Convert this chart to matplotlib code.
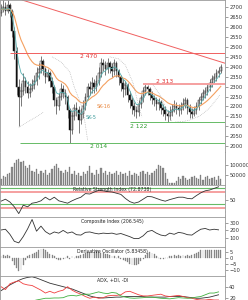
import numpy as np
import pandas as pd
import matplotlib
matplotlib.use('Agg')
import matplotlib.pyplot as plt
from matplotlib.ticker import MultipleLocator, FixedLocator

# ---- price bars (one per session) ----
close = [2690, 2700, 2680, 2710, 2680, 2580, 2480, 2300, 2250, 2280,
         2330, 2300, 2270, 2290, 2310, 2330, 2370, 2390, 2430, 2390,
         2350, 2370, 2330, 2300, 2230, 2200, 2250, 2290, 2270, 2250,
         2180, 2080, 2150, 2190, 2180, 2130, 2160, 2200, 2250, 2300,
         2290, 2320, 2300, 2330, 2370, 2420, 2410, 2390, 2420, 2400,
         2380, 2420, 2380, 2350, 2320, 2290, 2310, 2260, 2230, 2200,
         2180, 2170, 2210, 2240, 2280, 2300, 2290, 2260, 2240, 2230,
         2210, 2220, 2190, 2180, 2160, 2150, 2170, 2180, 2200, 2190,
         2180, 2200, 2210, 2230, 2190, 2170, 2160, 2180, 2200, 2230,
         2250, 2270, 2280, 2300, 2320, 2340, 2350, 2370, 2380, 2400]
high = [2715, 2740, 2725, 2735, 2720, 2690, 2600, 2500, 2340, 2320,
        2370, 2350, 2330, 2320, 2340, 2360, 2400, 2420, 2455, 2440,
        2400, 2390, 2380, 2350, 2310, 2250, 2270, 2320, 2310, 2290,
        2260, 2190, 2170, 2210, 2220, 2200, 2190, 2230, 2270, 2320,
        2330, 2350, 2340, 2360, 2400, 2445, 2440, 2430, 2445, 2430,
        2420, 2440, 2430, 2390, 2360, 2340, 2330, 2320, 2280, 2250,
        2220, 2200, 2230, 2260, 2300, 2313, 2310, 2300, 2280, 2260,
        2250, 2240, 2230, 2210, 2200, 2180, 2200, 2210, 2230, 2220,
        2210, 2220, 2240, 2250, 2240, 2210, 2190, 2200, 2220, 2250,
        2270, 2290, 2300, 2320, 2340, 2360, 2370, 2390, 2400, 2415]
low = [2655, 2675, 2660, 2670, 2650, 2550, 2440, 2260, 2100, 2200,
       2260, 2270, 2240, 2250, 2280, 2290, 2310, 2340, 2370, 2360,
       2320, 2330, 2300, 2270, 2200, 2160, 2180, 2230, 2240, 2210,
       2140, 2014, 2060, 2130, 2150, 2065, 2110, 2140, 2180, 2230,
       2260, 2270, 2270, 2280, 2310, 2350, 2380, 2360, 2370, 2370,
       2350, 2360, 2350, 2310, 2280, 2250, 2260, 2220, 2190, 2160,
       2150, 2140, 2150, 2190, 2220, 2260, 2260, 2230, 2210, 2200,
       2180, 2180, 2160, 2150, 2130, 2122, 2130, 2150, 2170, 2160,
       2150, 2160, 2180, 2190, 2160, 2140, 2140, 2150, 2160, 2180,
       2210, 2230, 2240, 2260, 2280, 2300, 2320, 2330, 2350, 2370]
first_open = 2670
volume_k = [30, 45, 40, 55, 60, 90, 110, 125, 130, 115,
            120, 95, 85, 100, 70, 65, 80, 55, 70, 60,
            75, 50, 60, 80, 95, 105, 85, 70, 60, 75,
            65, 90, 55, 70, 50, 60, 45, 65, 55, 70,
            95, 60, 50, 75, 55, 85, 60, 70, 50, 65,
            55, 60, 70, 50, 65, 55, 60, 45, 70, 50,
            60, 55, 45, 65, 70, 55, 65, 50, 60, 70,
            80, 100, 95, 85, 60, 30, 10, 8, 12, 20,
            40, 30, 45, 35, 25, 30, 40, 45, 35, 30,
            50, 25, 40, 45, 30, 35, 40, 25, 45, 30]
deriv_osc = [1, 2, 1, 2, 1, -3, -6, -9, -11, -10,
             -6, -2, 1, 2, 3, 4, 5, 6, 7, 7.5,
             6, 5, 3, 2, 1, -1, -2, -2, -1, 0,
             1, -1, 1, 0, 1, 1, 2, 3, 4, 5,
             5, 6, 5, 6, 5, 4, 4, 3, 3, 2,
             1, 1, 0, 1, -1, -2, -3, -4, -5, -6,
             -6, -6, -5, -3, -1, 2, 4, 5, 4, 3,
             1, 0, -1, -1, 0, 0, 1, 1, 2, 1,
             2, 1, 2, 1, 2, 1, 2, 3, 4, 5,
             6, 6, 6, 6, 6, 6, 6, 6, 6, 6]

# ---- indicators sampled every second bar ----
ind_bar = list(range(0, 100, 2))
rsi = [47, 52, 45, 33, 16, 37, 33, 42, 44, 48, 57, 50, 57, 48, 45, 42, 48, 53, 57, 66,
       65, 70, 74, 73, 71, 70, 67, 64, 54, 46, 42, 45, 52, 59, 58, 54, 50, 47, 51, 54,
       57, 57, 54, 53, 61, 68, 73, 75, 79, 83]
composite = [205, 215, 150, 60, 40, 120, 220, 340, 190, 255, 185, 150, 180, 165, 200, 165, 180,
             145, 140, 175, 180, 165, 155, 165, 160, 165, 150, 160, 140, 120, 95, 95, 130, 185,
             200, 165, 140, 130, 165, 150, 175, 165, 145, 140, 180, 215, 225, 205, 215, 207]
adx = [33, 38, 43, 47, 51, 54, 56, 57, 55, 52, 49, 46, 44, 42, 40, 38, 36, 33, 30, 27,
       24, 22, 21, 20.5, 21, 21.5, 22, 22, 23, 23, 23, 23, 23, 22, 22, 22, 22, 22, 23, 23,
       23, 23, 22, 21, 20, 20, 21, 22, 24, 26]
minus_di = [40, 35, 45, 48, 50, 45, 43, 42, 38, 34, 29, 32, 29, 32, 34, 40, 34, 30, 27, 23,
            20, 22, 20, 21, 24, 25, 25, 26, 31, 32, 29, 26, 24, 24, 25, 26, 27, 24, 23, 24,
            25, 23, 21, 20, 18, 17, 17, 18, 17, 17]
plus_di = [14, 13, 12, 12, 12, 13, 14, 15, 17, 18.5, 20, 20, 20.5, 20.5, 21, 24, 25, 24, 26, 27,
           27, 29, 31, 29, 28, 30, 29, 24, 22, 20.5, 20, 20.5, 21, 22, 22, 21, 20, 19.5, 19, 20,
           21, 20.5, 20, 20.5, 22, 23, 26, 29, 29, 31]

# ---- drawn levels / annotations ----
resist_hi, resist_lo = 2470, 2313
support_hi, support_lo = 2122, 2014
trend_bars, trend_prices = [9.5, 100.9], [2737, 2418]
arcs = [
    ([8, 11, 14, 17, 19], [2095, 2115, 2135, 2155, 2170]),
    ([23, 27, 31, 33, 37, 39], [2450, 2425, 2374, 2298, 2182, 2030]),
    ([49, 53, 56, 59.5, 61.7, 63.5], [2450, 2440, 2409, 2318, 2217, 2146]),
    ([68.5, 71.6, 74.8, 77], [2308, 2258, 2182, 2120]),
    ([78.4, 82, 85, 89.6, 94, 98.6], [2121, 2124, 2131, 2152, 2192, 2258]),
]

o = pd.Series(close).shift(1).fillna(first_open).values
c = np.array(close)
x = np.arange(len(close))
ema16 = pd.Series(close).ewm(span=16, adjust=False).mean()
ema5 = pd.Series(close).ewm(span=5, adjust=False).mean()

W = 248.0
H = 300.0
pw = 225 / W
fig = plt.figure(figsize=(2.48, 3.0), dpi=100)


def panel(top, bottom):
    ax = fig.add_axes([0, 1 - bottom / H, pw, (bottom - top) / H])
    ax.set_xlim(-0.45, 100.9)
    ax.yaxis.tick_right()
    ax.set_xticks([])
    for s in ax.spines.values():
        s.set_color('#9a9a9a')
        s.set_linewidth(0.6)
    ax.tick_params(axis='y', which='major', labelsize=3.7, length=2, width=0.4,
                   pad=1, colors='#555555', labelcolor='#333333')
    ax.tick_params(axis='y', which='minor', length=1, width=0.3, colors='#777777')
    return ax


tfs = 3.3
gray = '#333333'

# price
ax = panel(0, 152)
ax.spines['bottom'].set_visible(False)
ax.set_ylim(1970, 2737)
ax.yaxis.set_major_locator(MultipleLocator(50))
ax.yaxis.set_minor_locator(MultipleLocator(10))
ax.vlines(x, low, high, color='#444444', lw=0.5)
up = c >= o
ax.bar(x, np.maximum(np.abs(c - o), 3), bottom=np.minimum(o, c), width=0.75,
       color=np.where(up, 'white', 'black'), edgecolor='#222222', linewidth=0.35)
ax.plot(x, ema16, color='#f4a060', lw=0.8)
ax.plot(x, ema5, color='#59b0b0', lw=0.6)
for bx, by in arcs:
    ax.plot(bx, by, color='#aaaaaa', lw=0.5, ls=(0, (1, 1.5)))
ax.plot(trend_bars, trend_prices, color='#f06060', lw=0.7)
ax.hlines(resist_hi, 4, 100.9, color='#f06060', lw=0.7)
ax.hlines(resist_lo, 64, 100.9, color='#f5a0a0', lw=1.4)
ax.hlines(support_hi, 58, 100.9, color='#66bb66', lw=0.7)
ax.hlines(support_lo, 8.5, 100.9, color='#66bb66', lw=0.7)
ax.text(35.6, 2452, '2 470', color='#e03030', fontsize=4.3, va='center')
ax.text(70, 2326, '2 313', color='#e03030', fontsize=4.3, va='center')
ax.text(58, 2100, '2 122', color='#2e9a2e', fontsize=4.3, va='center')
ax.text(40, 2000, '2 014', color='#2e9a2e', fontsize=4.3, va='center')
ax.text(43, 2202, 'SK-16', color='#e8843a', fontsize=3.6, va='center')
ax.text(38, 2146, 'SK-5', color='#3a9a9a', fontsize=3.6, va='center')

# volume
ax = panel(152, 185)
ax.spines['top'].set_visible(False)
ax.set_ylim(0, 165000)
ax.yaxis.set_major_locator(FixedLocator([50000, 100000]))
ax.yaxis.set_minor_locator(MultipleLocator(10000))
ax.bar(x, np.array(volume_k) * 1000, width=0.55, color='#8c8c8c', edgecolor='#6a6a6a', linewidth=0.2)

# RSI
ax = panel(185, 217)
ax.set_ylim(7.5, 87.5)
ax.yaxis.set_major_locator(FixedLocator([50]))
ax.yaxis.set_minor_locator(MultipleLocator(10))
ax.axhline(80, color='#66bb66', lw=0.8)
ax.axhline(40, color='#66bb66', lw=0.8)
ax.axhline(70, color='#f5a0a0', lw=1.4)
ax.axhline(30, color='#f5a0a0', lw=1.4)
ax.plot(ind_bar, rsi, color=gray, lw=0.6)
ax.text(0.5, 0.93, 'Relative Strength Index (72.8738)', transform=ax.transAxes,
        ha='center', va='top', fontsize=tfs, color='#222222')

# Composite index
ax = panel(217, 247)
ax.set_ylim(-12.8, 371.8)
ax.yaxis.set_major_locator(MultipleLocator(100))
ax.yaxis.set_minor_locator(MultipleLocator(50))
ax.set_yticks([100, 200, 300])
ax.plot(ind_bar, composite, color=gray, lw=0.6)
ax.text(0.5, 0.93, 'Composite Index (206.545)', transform=ax.transAxes,
        ha='center', va='top', fontsize=tfs, color='#222222')

# Derivative oscillator
ax = panel(247, 276)
ax.set_ylim(-15.4, 8.75)
ax.set_yticks([5, 0, -5, -10])
ax.yaxis.set_minor_locator(MultipleLocator(2.5))
ax.bar(x, deriv_osc, width=0.4, color='#8c8c8c', edgecolor='#777777', linewidth=0.2)
ax.text(0.5, 0.93, 'Derivative Oscillator (5.83458)', transform=ax.transAxes,
        ha='center', va='top', fontsize=tfs, color='#222222')

# ADX
ax = panel(276, 300)
ax.set_ylim(17, 58.4)
ax.set_yticks([20, 40])
ax.yaxis.set_minor_locator(MultipleLocator(10))
ax.plot(ind_bar, adx, color=gray, lw=0.6)
ax.plot(ind_bar, minus_di, color='#f04040', lw=0.6)
ax.plot(ind_bar, plus_di, color='#40b040', lw=0.6)
ax.text(0.5, 0.93, 'ADX, +DI, -DI', transform=ax.transAxes,
        ha='center', va='top', fontsize=tfs, color='#222222')

fig.savefig('out.png', dpi=100)
